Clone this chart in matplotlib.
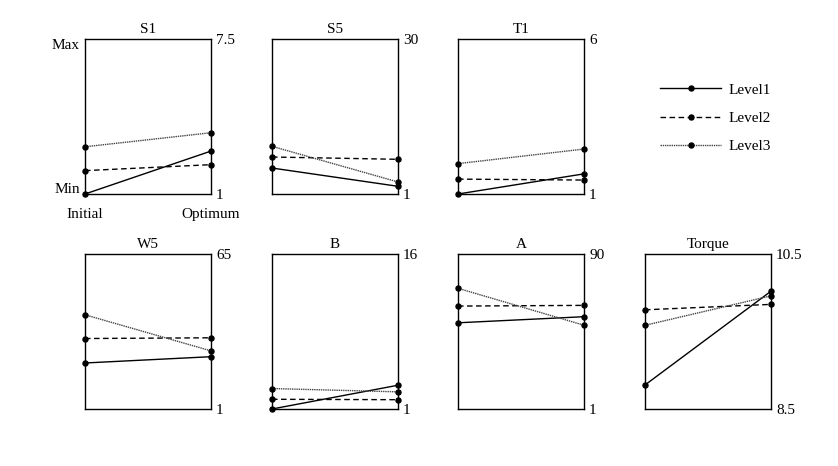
import matplotlib
matplotlib.use('Agg')
import matplotlib.pyplot as plt
from matplotlib.lines import Line2D

plt.rcParams['font.family'] = ['Liberation Serif', 'DejaVu Serif']
plt.rcParams['font.size'] = 11

# parameters and their ranges
params = ['S1', 'S5', 'T1', 'W5', 'B', 'A', 'Torque']
lows = ['1', '1', '1', '1', '1', '1', '8.5']
highs = ['7.5', '30', '6', '65', '16', '90', '10.5']
y_min = [1, 1, 1, 1, 1, 1, 8.5]
y_max = [7.5, 30, 6, 65, 16, 90, 10.5]

stages = ['Initial', 'Optimum']

# values: (initial, optimum) per parameter
level1 = [(1.0, 2.80), (5.86, 2.44), (1.0, 1.65), (20.0, 22.6), (1.0, 3.3), (50.5, 54.0), (8.81, 10.02)]
level2 = [(1.98, 2.23), (7.92, 7.49), (1.48, 1.45), (30.1, 30.4), (1.94, 1.9), (60.1, 60.5), (9.78, 9.85)]
level3 = [(2.98, 3.57), (9.92, 3.25), (1.98, 2.45), (39.9, 25.0), (2.98, 2.66), (70.3, 49.1), (9.58, 9.96)]

levels = ['Level1', 'Level2', 'Level3']
styles = [dict(color='black', ls='-', lw=1.0),
          dict(color='black', ls=(0, (4, 2.5)), lw=1.0),
          dict(color='#444444', ls=(0, (1, 0.6)), lw=1.0)]

fig = plt.figure(figsize=(8.38, 4.66), dpi=100)

col_left = [85, 272, 458, 645]
row_top = [39, 254]
W, H = 126, 155
fw, fh = 838, 466

slots = [(0, 0), (0, 1), (0, 2), (1, 0), (1, 1), (1, 2), (1, 3)]

for i, p in enumerate(params):
    r, c = slots[i]
    left = col_left[c] / fw
    bottom = 1 - (row_top[r] + H) / fh
    ax = fig.add_axes([left, bottom, W / fw, H / fh])
    for data, st in zip([level1, level2, level3], styles):
        ax.plot([0, 1], data[i], marker='o', ms=3.6, mfc='black', mec='black',
                clip_on=False, zorder=3, **st)
    ax.set_xlim(0, 1)
    ax.set_ylim(y_min[i], y_max[i])
    ax.set_xticks([])
    ax.set_yticks([])
    for s in ax.spines.values():
        s.set_linewidth(1.0)
    ax.set_title(p, fontsize=11, pad=4)
    ax.text(1.04, 0.99, highs[i], transform=ax.transAxes, ha='left', va='center')
    ax.text(1.04, -0.01, lows[i], transform=ax.transAxes, ha='left', va='center')
    if i == 0:
        ax.text(-0.04, 0.96, 'Max', transform=ax.transAxes, ha='right', va='center')
        ax.text(-0.04, 0.03, 'Min', transform=ax.transAxes, ha='right', va='center')
        ax.text(0.0, -0.13, stages[0], transform=ax.transAxes, ha='center', va='center')
        ax.text(1.0, -0.13, stages[1], transform=ax.transAxes, ha='center', va='center')

handles = [Line2D([0], [0], marker='o', ms=3.6, mfc='black', mec='black', **st) for st in styles]
fig.legend(handles, levels, loc='upper left', bbox_to_anchor=(660 / fw, 1 - 83 / fh),
           frameon=False, handlelength=4.0, labelspacing=0.95, handletextpad=0.5,
           fontsize=11, borderaxespad=0, borderpad=0)

fig.savefig('out.png', dpi=100)
